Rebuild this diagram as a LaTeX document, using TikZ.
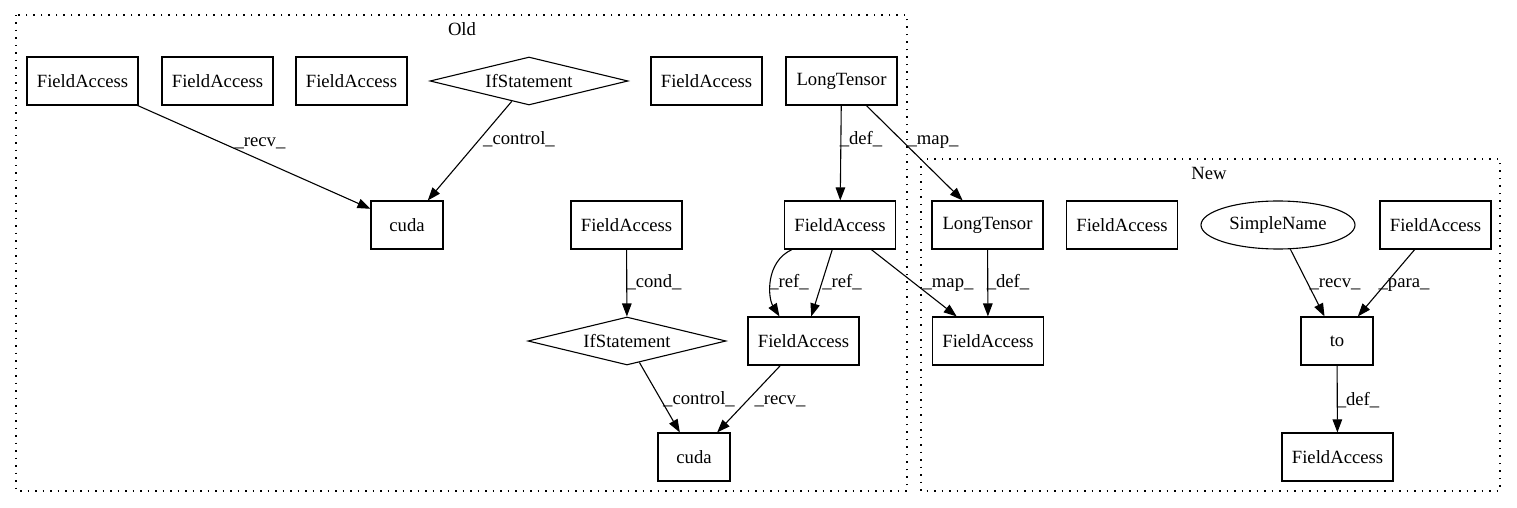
\documentclass[tikz,border=0pt]{standalone}
\usepackage{fontspec}
\setmainfont{Liberation Serif}
\usetikzlibrary{shapes.geometric,arrows.meta}
\begin{document}
\begin{tikzpicture}[x=1bp,y=-1bp,
  every node/.style={font=\fontsize{18.67bp}{21bp}\selectfont},
  box/.style={draw,line width=1.1bp,rectangle,inner sep=0pt,minimum height=48bp,minimum width=111bp},
  sbox/.style={box,minimum width=72bp},
  dia/.style={draw,line width=1.1bp,diamond,aspect=4.125,inner sep=0pt,minimum width=198bp,minimum height=48bp},
  ell/.style={draw,line width=1.1bp,ellipse,inner sep=0pt,minimum width=154bp,minimum height=48bp},
  cluster/.style={draw,line width=1.1bp,dash pattern=on 1.5bp off 6bp},
  edge/.style={line width=1.1bp,-{Triangle[length=13bp,width=9.5bp]}},
  lab/.style={anchor=base,inner sep=0pt}]
\fill[white] (0,0) rectangle (1517,508);
\useasboundingbox (0,0) rectangle (1517,508);
% clusters
\draw[cluster] (16,15) rectangle (907,491);
\node[lab] (oldlab) at (462,36) {Old};
\draw[cluster] (921,159) rectangle (1500,491);
\node[lab] (newlab) at (1209,180) {New};
% Old nodes
\node[box] (fa1) at (82.5,81) {FieldAccess};
\node[box] (fa2) at (217.5,81) {FieldAccess};
\node[box] (fa3) at (351.5,81) {FieldAccess};
\node[dia] (if1) at (529,81) {IfStatement};
\node[box] (fa4) at (706.5,81) {FieldAccess};
\node[box] (lt1) at (841.5,81) {LongTensor};
\node[sbox] (cuda1) at (407,225) {cuda};
\node[box] (fa5) at (626.5,225) {FieldAccess};
\node[box] (fa6) at (840,225) {FieldAccess};
\node[dia] (if2) at (627,341) {IfStatement};
\node[box] (fa7) at (803.5,341) {FieldAccess};
\node[sbox] (cuda2) at (694,457) {cuda};
% New nodes
\node[box] (lt2) at (987.5,225) {LongTensor};
\node[box] (fa8) at (1122,225) {FieldAccess};
\node[ell] (sn) at (1278,225) {SimpleName};
\node[box] (fa9) at (1435.5,225) {FieldAccess};
\node[box] (fa10) at (988,341) {FieldAccess};
\node[sbox] (to) at (1337,341) {to};
\node[box] (fa11) at (1337.5,457) {FieldAccess};
% edges
\draw[edge] (fa1) -- (cuda1) node[lab] at (260,147) {\_recv\_};
\draw[edge] (if1) -- (cuda1) node[lab] at (519,145) {\_control\_};
\draw[edge] (lt1) -- (fa6) node[lab] at (861,145) {\_def\_};
\draw[edge] (lt1) -- (lt2) node[lab] at (933,145) {\_map\_};
\draw[edge] (fa5) -- (if2) node[lab] at (654,288) {\_cond\_};
\draw[edge] ([xshift=8bp]fa6.south west) .. controls (765,262) and (768,298) .. ([xshift=32bp]fa7.north west);
\node[lab] (ref1) at (789,288) {\_ref\_};
\draw[edge] (fa6) -- (fa7) node[lab] at (842,288) {\_ref\_};
\draw[edge] (fa6) -- (fa10) node[lab] at (948,288) {\_map\_};
\draw[edge] (if2) -- (cuda2) node[lab] at (699,404) {\_control\_};
\draw[edge] (fa7) -- (cuda2) node[lab] at (780,404) {\_recv\_};
\draw[edge] (lt2) -- (fa10) node[lab] at (1008,288) {\_def\_};
\draw[edge] (sn) -- (to) node[lab] at (1335,288) {\_recv\_};
\draw[edge] (fa9) -- (to) node[lab] at (1404,288) {\_para\_};
\draw[edge] (to) -- (fa11) node[lab] at (1358,405) {\_def\_};
\end{tikzpicture}
\end{document}
